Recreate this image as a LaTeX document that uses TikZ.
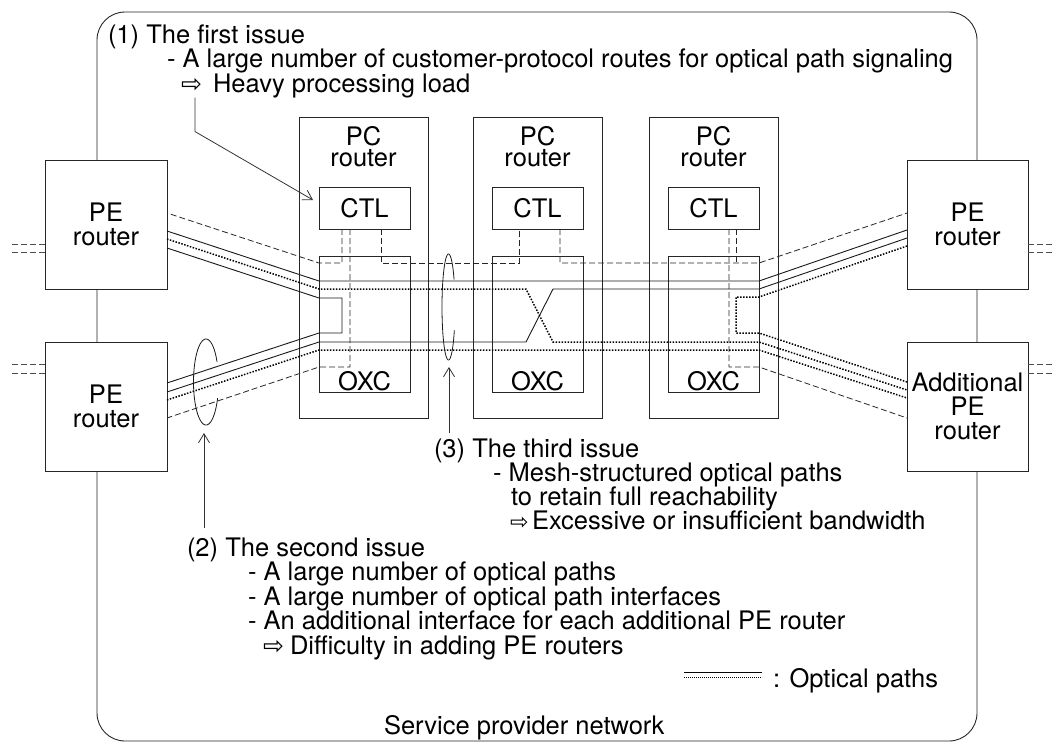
\documentclass[tikz,border=0pt]{standalone}
\usepackage{fontspec}
\setmainfont{TeX Gyre Heros}
\newfontfamily\symf{DejaVu Sans}
\usetikzlibrary{arrows.meta}
\begin{document}
\begin{tikzpicture}[x=1pt,y=-1pt,
  every node/.style={font=\fontsize{25.5}{24}\selectfont, inner sep=0pt, outer sep=0pt},
  box/.style={draw=black!85, fill=white, line width=0.9pt},
  pebox/.style={box, minimum width=122pt, minimum height=129pt, align=center},
  pcbox/.style={box, minimum width=129pt, minimum height=301pt},
  ctlbox/.style={box, minimum width=91pt, minimum height=42pt},
  oxcbox/.style={box, minimum width=91pt, minimum height=136pt},
  pclab/.style={anchor=north, align=center, yshift=-9pt, font=\fontsize{25.5}{21.5}\selectfont},
  oxclab/.style={anchor=base, yshift=1.5pt},
  solidpath/.style={line width=0.9pt, black!90},
  dotpath/.style={line width=1.5pt, black, dash pattern=on 1.5pt off 1.5pt},
  ctlpath/.style={line width=0.8pt, black!85, dash pattern=on 6pt off 3pt},
  stub/.style={line width=0.8pt, black!70, dash pattern=on 6pt off 3pt},
  ring/.style={line width=0.8pt, black!90},
  callout/.style={line width=0.8pt, black!80, -{Straight Barb[length=9pt,width=11pt]}},
  txt/.style={anchor=base west}
]
\useasboundingbox (0,0) rectangle (1054,742);

% service provider network frame
\draw[line width=0.9pt, black!85, rounded corners=28pt] (97,12) rectangle (977,741);

% PC routers
\node[pcbox, label={[pclab]north:{PC\\router}}] (pc1) at (363.5,267.5) {};
\node[pcbox, label={[pclab]north:{PC\\router}}] (pc2) at (537.5,267.5) {};
\node[pcbox, label={[pclab]north:{PC\\router}}] (pc3) at (713.5,267.5) {};

\node[ctlbox] (ctl1) at (364.5,208) {CTL};
\node[ctlbox] (ctl2) at (537.5,208) {CTL};
\node[ctlbox] (ctl3) at (713.5,208) {CTL};

\node[oxcbox, label={[oxclab]south:OXC}] (oxc1) at (364.5,324) {};
\node[oxcbox, label={[oxclab]south:OXC}] (oxc2) at (537.5,324) {};
\node[oxcbox, label={[oxclab]south:OXC}] (oxc3) at (713.5,324) {};

% PE routers
\node[pebox] (peL1) at (106,224.5) {PE\\router};
\node[pebox] (peL2) at (106,406.5) {PE\\router};
\node[pebox, minimum width=121pt] (peR1) at (967.5,224.5) {PE\\router};
\node[pebox, minimum width=121pt] (peR2) at (967.5,406.5) {Additional\\PE\\router};

% outer stubs
\draw[stub] (peL1.west |- 0,244) -- ++(-35,0);
\draw[stub] (peL1.west |- 0,252) -- ++(-35,0);
\draw[stub] (peL2.west |- 0,364) -- ++(-35,0);
\draw[stub] (peL2.west |- 0,373) -- ++(-35,0);
\draw[stub] (peR1.east |- 0,244) -- ++(30,0);
\draw[stub] (peR1.east |- 0,252) -- ++(30,0);
\draw[stub] (peR2.east |- 0,364) -- ++(30,0);
\draw[stub] (peR2.east |- 0,373) -- ++(30,0);

% control (dashed) lines
\draw[ctlpath] (ctl1.south -| 342,0) -- (342,263) -- (319,263) -- (peL1.east |- 0,213);
\draw[ctlpath] (ctl1.south -| 350,0) -- (350,367) -- (319,367) -- (peL2.east |- 0,418);
\draw[ctlpath] (ctl1.south -| 381,0) -- (381,263) -- (519,263) -- (ctl2.south -| 519,0);
\draw[ctlpath] (ctl2.south -| 560,0) -- (560,263) -- (759,263) -- (peR1.west |- 0,213);
\draw[ctlpath] (ctl3.south -| 736,0) -- (736,263);
\draw[ctlpath] (ctl3.south -| 729,0) -- (729,367) -- (759,367) -- (peR2.west |- 0,418);

% optical paths
\draw[solidpath] (peL1.east |- 0,231) -- (319,281) -- (759,281) -- (peR1.west |- 0,230);
\draw[solidpath] (peL2.east |- 0,392) -- (319,342) -- (526,342) -- (553,289) -- (759,289) -- (peR1.west |- 0,238);
\draw[solidpath] (peL1.east |- 0,248) -- (319,298) -- (342,298) -- (342,333) -- (319,333) -- (peL2.east |- 0,383);
\draw[dotpath] (peL1.east |- 0,239) -- (319,289) -- (526,289) -- (553,342) -- (759,342) -- (peR2.west |- 0,390);
\draw[dotpath] (peL2.east |- 0,400) -- (319,350) -- (759,350) -- (peR2.west |- 0,398);
\draw[dotpath] (peR1.west |- 0,246) -- (759,297) -- (736,297) -- (736,333) -- (759,333) -- (peR2.west |- 0,382);

% rings around path bundles
\draw[ring] plot[domain=28:338, samples=90, smooth] ({206+12.5*cos(\x)},{382-43*sin(\x)});
\draw[ring] plot[domain=31:334, samples=90, smooth] ({448.5+6.5*cos(\x)},{307-53*sin(\x)});

% texts
\node[txt] (i1a) at (108,43) {(1) The first issue};
\node[txt] (i1b) at (167,67.5) {- A large number of customer-protocol routes for optical path signaling};
\node[txt] (i1c) at (181,92) {\makebox[32pt][l]{\symf\fontsize{25}{25}\selectfont ⇨}Heavy processing load};

\node[txt] (i2a) at (187,556) {(2) The second issue};
\node[txt] (i2b) at (248,580.5) {- A large number of optical paths};
\node[txt] (i2c) at (248,605) {- A large number of optical path interfaces};
\node[txt] (i2d) at (248,629.5) {- An additional interface for each additional PE router};
\node[txt] (i2e) at (263,654) {\makebox[27pt][l]{\symf\fontsize{25}{25}\selectfont ⇨}Difficulty in adding PE routers};

\node[txt] (i3a) at (434,457) {(3) The third issue};
\node[txt] (i3b) at (493,481) {- Mesh-structured optical paths};
\node[txt] (i3c) at (511,505) {to retain full reachability};
\node[txt] (i3d) at (510,529) {\makebox[22pt][l]{\symf\fontsize{22}{22}\selectfont ⇨}Excessive or insufficient bandwidth};

\node[txt] (lg) at (773,687) {: Optical paths};
\draw[line width=0.8pt] (684,672) -- (762,672);
\draw[line width=0.8pt, dash pattern=on 0.8pt off 1.2pt] (684,677) -- (762,677);

\node[txt] (spn) at (384,734) {Service provider network};

% callout arrows
\draw[callout] ([xshift=14pt]i1c.south west) -- ++(0,34) -- ([xshift=-6pt,yshift=-13pt]ctl1.north west);
\draw[callout] ([xshift=17pt,yshift=9pt]i2a.north west) -- (204,433);
\draw[callout] ([xshift=15pt,yshift=5pt]i3a.north west) -- (449,367);
\end{tikzpicture}
\end{document}
